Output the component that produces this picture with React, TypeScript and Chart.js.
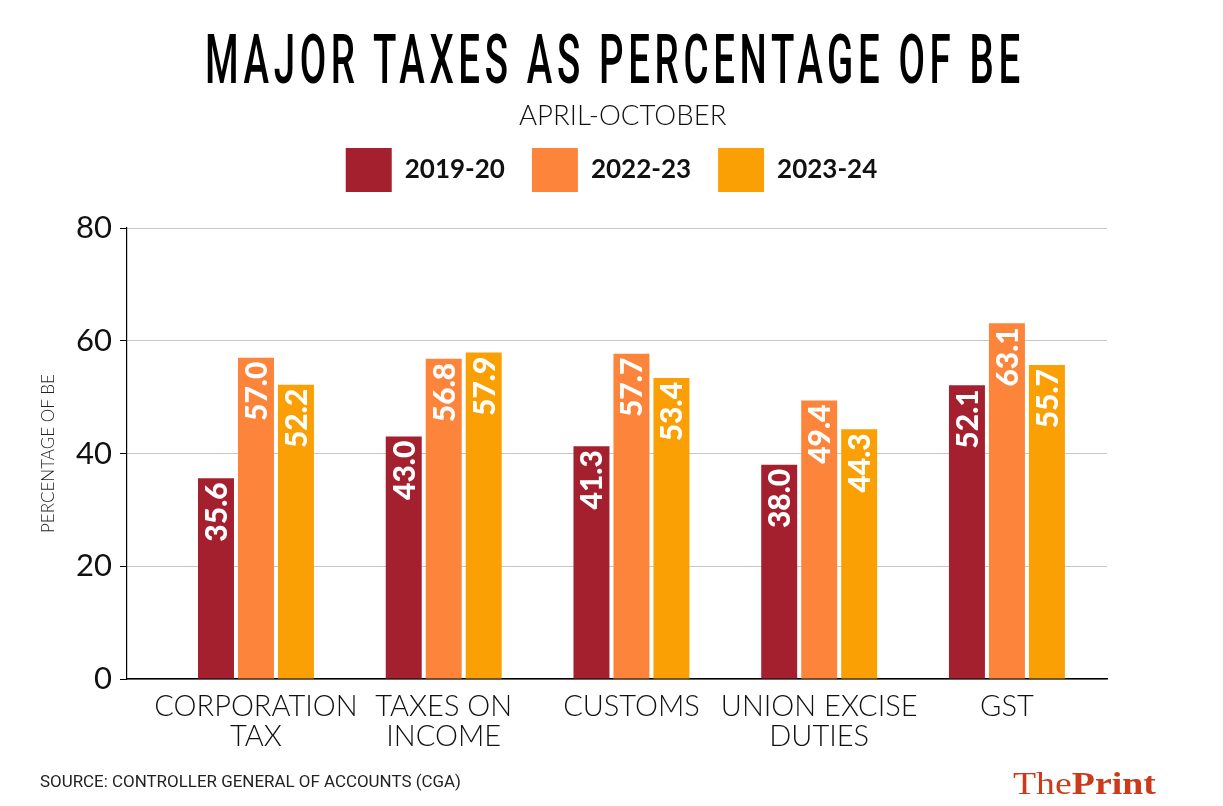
import React, { useEffect, useLayoutEffect, useRef, useState } from "react";
import { Chart, registerables } from "chart.js";

Chart.register(...registerables);

// ---------- data ----------
const CATEGORIES: string[][] = [
  ["CORPORATION", "TAX"],
  ["TAXES ON", "INCOME"],
  ["CUSTOMS"],
  ["UNION EXCISE", "DUTIES"],
  ["GST"],
];
const SERIES_LABELS = ["2019-20", "2022-23", "2023-24"];
const VALUES_2019_20 = [35.6, 43.0, 41.3, 38.0, 52.1];
const VALUES_2022_23 = [57.0, 56.8, 57.7, 49.4, 63.1];
const VALUES_2023_24 = [52.2, 57.9, 53.4, 44.3, 55.7];
const Y_TICKS = [0, 20, 40, 60, 80];

const TITLE = "MAJOR TAXES AS PERCENTAGE OF BE";
const SUBTITLE = "APRIL-OCTOBER";
const Y_TITLE = "PERCENTAGE OF BE";
const SOURCE = "SOURCE: CONTROLLER GENERAL OF ACCOUNTS (CGA)";

// ---------- styles ----------
const COLORS = ["#a5202f", "#fd853b", "#faa004"];
const W = 1223;
const H = 806;

const barValueLabels = {
  id: "barValueLabels",
  afterDatasetsDraw(chart: any) {
    const ctx = chart.ctx as CanvasRenderingContext2D;
    const size = 30;
    ctx.save();
    ctx.fillStyle = "#ffffff";
    ctx.font = `900 ${size}px Lato`;
    ctx.textAlign = "right";
    ctx.textBaseline = "alphabetic";
    chart.data.datasets.forEach((ds: any, di: number) => {
      const meta = chart.getDatasetMeta(di);
      meta.data.forEach((el: any, i: number) => {
        const raw = ds.data[i];
        const v = typeof raw === "object" ? raw.y : raw;
        ctx.save();
        ctx.translate(el.x + size * 0.36, el.y + 4);
        ctx.rotate(-Math.PI / 2);
        ctx.fillText(Number(v).toFixed(1), 0, 0);
        ctx.restore();
      });
    });
    ctx.restore();
  },
};

const legendSpacer = {
  id: "legendSpacer",
  beforeInit(chart: any) {
    const lg = chart.legend;
    if (!lg) return;
    const orig = lg.fit;
    lg.fit = function () {
      orig.call(this);
      this.height += 26;
    };
  },
};

function FitText(props: {
  x: number;
  top: number;
  width: number;
  anchor?: "left" | "center";
  style?: React.CSSProperties;
  children: React.ReactNode;
}) {
  const { x, top, width, anchor = "left", style, children } = props;
  const ref = useRef<HTMLSpanElement>(null);
  const [sx, setSx] = useState(1);
  useLayoutEffect(() => {
    const measure = () => {
      const el = ref.current;
      if (!el) return;
      const w = el.offsetWidth;
      if (w > 0) setSx(width / w);
    };
    measure();
    if ((document as any).fonts && (document as any).fonts.ready) {
      (document as any).fonts.ready.then(measure);
    }
  }, [width]);
  const left = anchor === "center" ? x - width / 2 : x;
  return (
    <span
      ref={ref}
      style={{
        position: "absolute",
        left,
        top,
        display: "inline-block",
        whiteSpace: "nowrap",
        lineHeight: 1,
        transform: `scaleX(${sx})`,
        transformOrigin: "left top",
        ...style,
      }}
    >
      {children}
    </span>
  );
}

export default function App() {
  const canvasRef = useRef<HTMLCanvasElement>(null);

  useEffect(() => {
    const canvas = canvasRef.current;
    if (!canvas) return;
    const seriesValues = [VALUES_2019_20, VALUES_2022_23, VALUES_2023_24];
    const chart = new Chart(canvas, {
      type: "bar",
      data: {
        datasets: seriesValues.map((vals, k) => ({
          label: SERIES_LABELS[k],
          data: vals.map((v, i) => ({ x: i, y: v })),
          backgroundColor: COLORS[k],
          borderWidth: 0,
          categoryPercentage: 0.639,
          barPercentage: 0.9,
        })),
      },
      options: {
        responsive: false,
        animation: false,
        devicePixelRatio: 1,
        layout: { padding: { top: 121, left: 0, right: 0, bottom: 0 } },
        plugins: {
          legend: {
            position: "top",
            align: "center",
            labels: {
              boxWidth: 46,
              boxHeight: 44,
              padding: 27,
              color: "#111",
              font: { family: "Lato", weight: "bold", size: 26 },
            },
          },
          tooltip: { enabled: false },
          title: { display: false },
        },
        scales: {
          x: {
            type: "linear",
            offset: false,
            min: -0.687,
            max: 4.533,
            afterBuildTicks: (s: any) => {
              s.ticks = CATEGORIES.map((_, i) => ({ value: i }));
            },
            ticks: {
              callback: (_v: any, i: number) => CATEGORIES[i],
              autoSkip: false,
              maxRotation: 0,
              minRotation: 0,
              color: "#111",
              padding: 4,
              font: { family: "Lato", size: 29, weight: 300, lineHeight: 1.05 },
            },
            grid: { display: false },
            border: { display: true, color: "#000", width: 1.5 },
            afterFit: (s: any) => {
              s.height = 127;
            },
          },
          y: {
            min: 0,
            max: 80,
            afterBuildTicks: (s: any) => {
              s.ticks = Y_TICKS.map((v) => ({ value: v }));
            },
            ticks: {
              color: "#111",
              padding: 8,
              font: { family: "Lato", size: 31 },
            },
            grid: {
              color: "#c6c6c6",
              lineWidth: 1,
              drawTicks: true,
              tickLength: 7,
              tickColor: "#000",
            },
            border: { display: true, color: "#000", width: 1.2 },
            title: {
              display: true,
              text: Y_TITLE,
              color: "#222",
              font: { family: "Lato", size: 17, weight: 300 },
              padding: { top: 38, bottom: 0 },
            },
            afterFit: (s: any) => {
              s.width = 127;
            },
          },
          yRight: {
            type: "linear",
            position: "right",
            display: true,
            ticks: { display: false },
            grid: { display: false, drawTicks: false },
            border: { display: false },
            afterFit: (s: any) => {
              s.width = 116;
            },
          },
        },
      } as any,
      plugins: [barValueLabels, legendSpacer],
    });
    return () => chart.destroy();
  }, []);

  return (
    <div
      style={{
        position: "absolute",
        left: 0,
        top: 0,
        width: W,
        height: H,
        background: "#fff",
        overflow: "hidden",
      }}
    >
      <canvas
        ref={canvasRef}
        width={W}
        height={H}
        style={{ position: "absolute", left: 0, top: 0, width: W, height: H }}
      />
      <FitText
        x={615}
        top={26}
        width={820}
        anchor="center"
        style={{
          fontFamily: "Roboto",
          fontWeight: 500,
          fontSize: 68,
          letterSpacing: "0.12em",
          color: "#000",
        }}
      >
        {TITLE}
      </FitText>
      <FitText
        x={622.5}
        top={100}
        width={207}
        anchor="center"
        style={{ fontFamily: "Lato", fontWeight: 300, fontSize: 28, color: "#111" }}
      >
        {SUBTITLE}
      </FitText>
      <FitText
        x={40}
        top={774}
        width={421}
        style={{ fontFamily: "Roboto", fontWeight: 400, fontSize: 16, color: "#222" }}
      >
        {SOURCE}
      </FitText>
      <FitText
        x={1013}
        top={767}
        width={143}
        style={{ fontFamily: "Liberation Serif", fontSize: 32, color: "#cc3a1c" }}
      >
        <span style={{ fontWeight: 400 }}>The</span>
        <span style={{ fontWeight: 700 }}>Print</span>
      </FitText>
    </div>
  );
}
